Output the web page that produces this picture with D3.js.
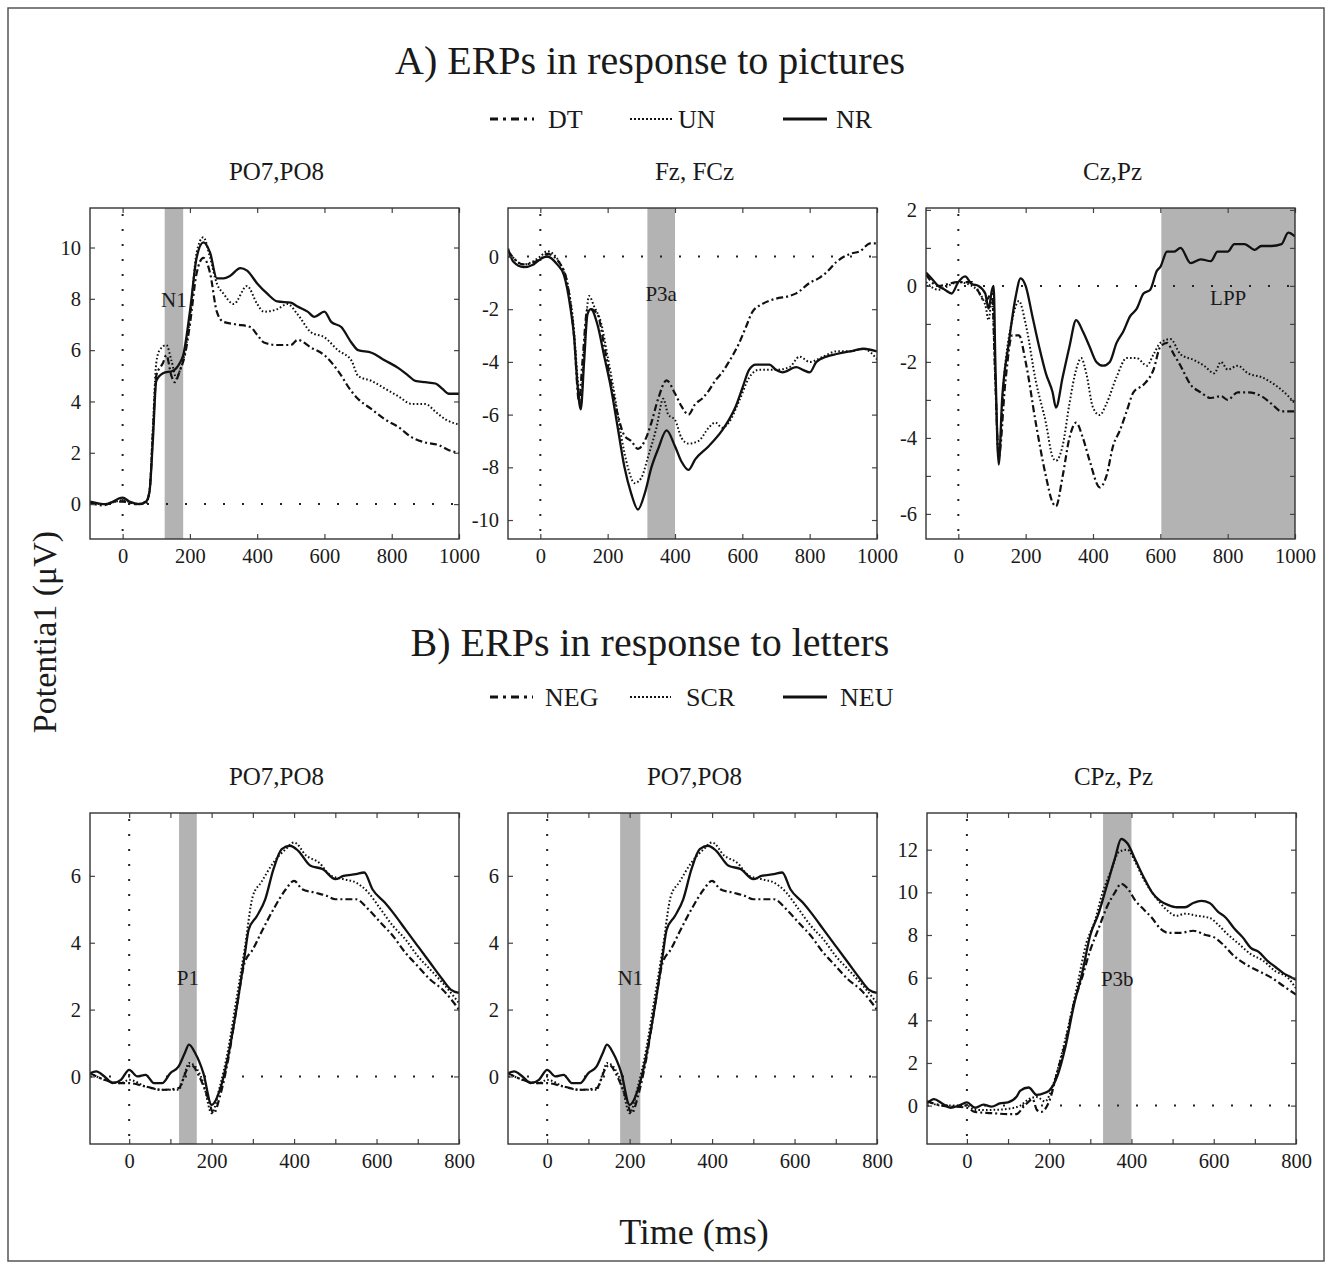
<!DOCTYPE html>
<html>
<head>
<meta charset="utf-8">
<title>ERPs</title>
<script src="https://cdnjs.cloudflare.com/ajax/libs/d3/7.8.5/d3.min.js"></script>
<style>
  body { margin: 0; background: #fff; }
  svg text { font-family: "Liberation Serif", "Times New Roman", serif; fill: #1a1a1a; }
</style>
</head>
<body>
<svg id="chart" width="1332" height="1269"></svg>
<script>
// ---- data: [time ms, potential uV] ----
var a1DT = [[-97,0.05],[-60,-0.05],[-20,0.1],[0,0.1],[40,0.0],[70,0.1],[80,0.5],[90,2.8],[100,5.0],[120,5.5],[130,5.8],[145,5.0],[155,4.75],[170,5.2],[185,5.8],[200,7.0],[220,9.0],[240,9.6],[260,9.0],[280,7.5],[300,7.1],[340,7.0],[380,6.9],[400,6.6],[420,6.3],[460,6.2],[500,6.2],[520,6.4],[560,6.1],[600,5.8],[640,5.2],[680,4.4],[700,4.1],[740,3.7],[780,3.3],[820,3.0],[860,2.6],[900,2.4],[940,2.3],[970,2.1],[1000,2.0]];
var a1UN = [[-97,0.05],[-60,0.0],[-20,0.1],[0,0.15],[40,0.0],[70,0.05],[80,0.5],[90,3.0],[100,5.5],[110,6.0],[130,6.2],[145,5.6],[160,4.9],[170,5.2],[180,5.6],[200,7.2],[220,9.8],[240,10.4],[260,9.6],[280,8.6],[300,8.2],[330,7.8],[370,8.5],[400,7.8],[420,7.5],[460,7.6],[490,7.8],[520,7.4],[560,6.7],[600,6.5],[640,6.0],[680,5.6],[700,5.0],[740,4.8],[780,4.5],[820,4.2],[860,3.9],[900,3.9],[930,3.6],[960,3.3],[1000,3.1]];
var a1NR = [[-97,0.1],[-50,0.0],[0,0.25],[20,0.1],[50,0.0],[70,0.1],[80,0.5],[90,2.5],[100,4.8],[120,5.1],[150,5.2],[170,5.5],[180,5.8],[200,7.5],[220,9.6],[240,10.2],[260,9.8],[280,8.8],[300,8.8],[320,8.9],[350,9.2],[370,9.1],[400,8.6],[430,8.2],[460,7.9],[500,7.85],[520,7.7],[550,7.5],[570,7.3],[600,7.5],[620,7.1],[650,6.9],[680,6.3],[700,6.0],[740,5.9],[780,5.6],[820,5.3],[850,5.0],[870,4.8],[900,4.75],[930,4.7],[950,4.5],[970,4.3],[1000,4.3]];

var a2DT = [[-96,0.2],[-50,-0.3],[0,-0.1],[20,0.1],[60,-0.3],[80,-1.0],[100,-3.0],[115,-5.5],[125,-4.0],[140,-2.0],[150,-2.0],[170,-2.2],[190,-3.4],[210,-4.8],[230,-6.0],[250,-6.8],[270,-7.0],[290,-7.3],[310,-7.0],[330,-6.3],[350,-5.4],[375,-4.7],[400,-5.2],[420,-5.7],[440,-6.0],[460,-5.6],[480,-5.4],[500,-5.1],[520,-4.7],[540,-4.4],[560,-4.0],[590,-3.3],[610,-2.7],[630,-2.1],[660,-1.8],[700,-1.6],[740,-1.5],[760,-1.4],[800,-1.0],[830,-0.8],[850,-0.6],[880,-0.2],[920,0.1],[950,0.2],[980,0.5],[1000,0.5]];
var a2UN = [[-96,0.2],[-50,-0.3],[0,0.0],[20,0.2],[60,-0.3],[80,-1.0],[100,-2.8],[110,-4.5],[120,-5.7],[130,-3.5],[145,-1.5],[160,-1.9],[180,-2.5],[200,-3.8],[220,-5.2],[240,-6.8],[260,-8.0],[280,-8.6],[300,-8.4],[320,-7.6],[345,-6.5],[365,-5.4],[380,-6.0],[400,-6.2],[420,-6.9],[440,-7.1],[470,-7.0],[500,-6.5],[520,-6.3],[540,-6.5],[560,-6.3],[590,-5.5],[620,-4.6],[650,-4.3],[700,-4.3],[740,-4.2],[770,-3.8],[800,-4.0],[840,-3.8],[880,-3.6],[920,-3.6],[960,-3.5],[1000,-3.9]];
var a2NR = [[-96,0.3],[-80,-0.2],[-50,-0.4],[-20,-0.3],[0,-0.1],[20,0.0],[50,-0.3],[70,-0.7],[90,-2.0],[100,-3.0],[110,-4.8],[120,-5.8],[130,-4.0],[140,-2.2],[150,-2.0],[170,-2.6],[190,-3.8],[210,-5.0],[230,-6.5],[250,-8.0],[270,-9.0],[290,-9.6],[310,-9.0],[330,-8.0],[350,-7.3],[375,-6.6],[400,-7.2],[420,-7.8],[440,-8.1],[460,-7.7],[500,-7.2],[540,-6.6],[560,-6.2],[580,-5.7],[600,-5.0],[620,-4.3],[640,-4.1],[680,-4.1],[700,-4.3],[720,-4.4],[760,-4.2],[780,-4.3],[800,-4.4],[820,-4.0],[850,-3.8],[880,-3.7],[920,-3.6],[960,-3.5],[1000,-3.6]];

var a3DT = [[-96,0.3],[-60,0.0],[0,0.1],[40,0.1],[80,-0.4],[100,-0.2],[110,-2.5],[120,-4.5],[140,-2.5],[160,-1.3],[180,-1.3],[200,-2.0],[230,-3.6],[260,-5.0],[280,-5.7],[290,-5.8],[310,-5.0],[330,-4.0],[350,-3.6],[370,-4.0],[390,-4.6],[420,-5.3],[440,-5.0],[460,-4.2],[480,-3.8],[500,-3.3],[520,-2.8],[550,-2.6],[580,-2.2],[600,-1.6],[620,-1.5],[640,-1.8],[660,-2.1],[690,-2.6],[720,-2.8],[750,-2.95],[780,-2.9],[800,-3.0],[830,-2.8],[860,-2.8],[900,-2.9],[930,-3.1],[960,-3.3],[1000,-3.3]];
var a3UN = [[-96,0.1],[-60,-0.1],[0,0.1],[40,0.0],[80,-0.5],[90,-0.9],[100,-0.3],[110,-2.5],[120,-4.5],[135,-2.5],[160,-0.9],[180,-0.4],[200,-1.0],[230,-2.5],[260,-3.6],[280,-4.5],[290,-4.6],[310,-4.2],[330,-3.1],[350,-2.2],[365,-1.9],[380,-2.3],[400,-3.2],[420,-3.4],[440,-3.1],[470,-2.4],[500,-1.9],[530,-1.9],[560,-2.1],[580,-1.8],[600,-1.5],[630,-1.4],[660,-1.8],[700,-1.95],[730,-2.1],[760,-2.3],[780,-2.0],[800,-2.2],[830,-2.1],[860,-2.3],[900,-2.4],[940,-2.6],[980,-2.9],[1000,-3.1]];
var a3NR = [[-96,0.35],[-80,0.2],[-60,0.0],[-40,-0.1],[-20,-0.2],[0,0.1],[20,0.25],[40,0.05],[60,0.0],[80,-0.2],[90,-0.6],[100,-0.1],[105,0.0],[110,-2.0],[120,-4.7],[130,-3.0],[150,-1.5],[170,-0.3],[185,0.2],[200,0.0],[220,-0.8],[240,-1.6],[260,-2.3],[280,-2.8],[290,-3.2],[310,-2.4],[330,-1.6],[350,-0.9],[370,-1.2],[390,-1.6],[410,-2.0],[430,-2.1],[450,-2.0],[470,-1.5],[490,-1.2],[510,-0.8],[530,-0.6],[550,-0.2],[570,-0.1],[590,0.4],[600,0.5],[620,0.9],[640,0.9],[660,1.0],[690,0.6],[720,0.7],[750,0.65],[770,0.9],[800,0.9],[820,1.1],[850,1.1],[880,0.95],[900,1.05],[930,1.05],[960,1.1],[980,1.4],[1000,1.3]];

// letters, occipital (same traces shown in the P1 and N1 panels)
var bNEG = [[-95,0.1],[-60,-0.1],[-20,-0.2],[0,-0.2],[40,-0.3],[80,-0.4],[120,-0.35],[140,0.2],[150,0.35],[170,0.0],[190,-0.6],[205,-1.1],[220,-0.6],[240,0.5],[260,2.0],[280,3.4],[300,3.8],[320,4.3],[350,5.0],[380,5.6],[400,5.85],[420,5.6],[450,5.5],[480,5.4],[500,5.3],[530,5.3],[550,5.3],[580,5.0],[610,4.6],[640,4.2],[670,3.7],[700,3.3],[730,2.9],[760,2.6],[800,2.0]];
var bSCR = [[-95,0.1],[-60,-0.1],[-20,-0.2],[0,-0.1],[40,-0.3],[80,-0.4],[120,-0.4],[135,0.1],[145,0.4],[160,0.3],[180,-0.2],[200,-1.1],[220,-0.3],[240,0.8],[260,2.3],[280,3.8],[300,5.4],[320,5.8],[350,6.4],[380,6.8],[400,7.0],[430,6.6],[460,6.4],[490,6.0],[520,5.9],[550,5.8],[580,5.5],[610,5.0],[640,4.5],[670,4.1],[700,3.6],[730,3.2],[760,2.8],[800,2.2]];
var bNEU = [[-95,0.1],[-80,0.15],[-60,0.0],[-40,-0.2],[-20,-0.1],[0,0.2],[20,0.0],[40,0.05],[60,-0.2],[80,-0.2],[100,0.1],[120,0.3],[135,0.7],[145,0.95],[160,0.7],[180,0.1],[200,-0.85],[220,-0.4],[240,0.6],[260,2.0],[280,3.6],[290,4.4],[310,4.8],[330,5.3],[350,6.2],[370,6.8],[390,6.9],[410,6.75],[440,6.3],[470,6.2],[500,5.9],[520,6.0],[550,6.05],[570,6.1],[590,5.6],[620,5.2],[640,4.9],[670,4.4],[700,3.9],[730,3.4],[760,2.9],[780,2.6],[800,2.5]];

var b3NEG = [[-97,0.2],[-60,0.0],[0,-0.1],[20,-0.3],[60,-0.35],[100,-0.4],[120,-0.4],[140,0.0],[160,0.3],[170,-0.2],[180,-0.3],[200,0.2],[220,1.6],[240,3.0],[260,4.8],[280,6.0],[300,7.3],[320,8.3],[340,9.3],[360,10.0],[375,10.4],[390,10.2],[410,9.6],[430,9.2],[450,8.8],[470,8.3],[490,8.1],[520,8.1],[550,8.2],[580,8.0],[600,7.9],[620,7.6],[650,7.0],[680,6.6],[710,6.3],[740,6.0],[770,5.6],[800,5.2]];
var b3SCR = [[-97,0.2],[-60,0.0],[0,0.0],[20,-0.2],[60,-0.2],[100,-0.15],[130,0.0],[150,0.3],[170,0.4],[190,0.2],[210,1.0],[230,2.4],[250,4.0],[270,5.8],[290,7.6],[310,8.6],[330,10.0],[350,11.0],[370,11.9],[390,12.0],[410,11.4],[430,10.6],[450,10.0],[470,9.5],[490,9.1],[510,8.9],[530,9.0],[560,8.9],[590,8.8],[610,8.5],[630,8.1],[660,7.6],[690,7.1],[720,6.8],[750,6.3],[780,6.0],[800,5.5]];
var b3NEU = [[-97,0.1],[-80,0.3],[-60,0.1],[-40,-0.1],[-20,0.0],[0,0.15],[20,-0.1],[40,0.05],[60,-0.05],[80,0.1],[100,0.15],[120,0.4],[130,0.7],[150,0.85],[170,0.5],[190,0.6],[200,0.7],[220,1.4],[240,2.8],[260,4.7],[280,6.2],[300,8.0],[320,9.0],[340,10.3],[360,11.6],[375,12.5],[390,12.3],[410,11.5],[430,10.7],[450,10.0],[470,9.6],[490,9.4],[510,9.3],[530,9.3],[550,9.5],[570,9.6],[590,9.5],[610,9.1],[630,8.8],[650,8.3],[670,7.9],[690,7.4],[710,7.2],[730,6.8],[750,6.5],[770,6.2],[790,6.0],[800,5.9]];

// ticks
var xTicksA = [0, 200, 400, 600, 800, 1000];
var xTicksB = [0, 100, 200, 300, 400, 500, 600, 700, 800];
var yTicksA1 = [0, 2, 4, 6, 8, 10];
var yTicksA2 = [-10, -8, -6, -4, -2, 0];
var yTicksA3 = [-6, -5, -4, -3, -2, -1, 0, 1, 2];
var yTicksB = [0, 2, 4, 6];
var yTicksB3 = [0, 2, 4, 6, 8, 10, 12];

var legendA = ["DT", "UN", "NR"];
var legendB = ["NEG", "SCR", "NEU"];

// ---- layout ----
var svg = d3.select("#chart");
var W = 369, H = 331;
var styles = {
  dashdot: { width: 2.2, dash: "7,3,2,3" },
  dotted: { width: 2.0, dash: "1.6,2.2" },
  solid: { width: 2.3, dash: null }
};

var panels = [
  { x: 90, y: 208, title: "PO7,PO8", xd: [-97, 1000], yd: [-1.36, 11.54], xt: xTicksA, yt: yTicksA1,
    band: [125, 180], lab: "N1", labV: 7.7, series: [[a1DT, "dashdot"], [a1UN, "dotted"], [a1NR, "solid"]] },
  { x: 508, y: 208, title: "Fz, FCz", xd: [-96, 1000], yd: [-10.72, 1.84], xt: xTicksA, yt: yTicksA2,
    band: [318, 400], lab: "P3a", labV: -1.7, series: [[a2DT, "dashdot"], [a2UN, "dotted"], [a2NR, "solid"]] },
  { x: 926, y: 208, title: "Cz,Pz", xd: [-96, 1000], yd: [-6.66, 2.05], xt: xTicksA, yt: yTicksA3,
    band: [603, 1000], lab: "LPP", labV: -0.5, series: [[a3DT, "dashdot"], [a3UN, "dotted"], [a3NR, "solid"]] },
  { x: 90, y: 813, title: "PO7,PO8", xd: [-95, 800], yd: [-2.02, 7.88], xt: xTicksB, yt: yTicksB,
    band: [121, 164], lab: "P1", labV: 2.75, series: [[bNEG, "dashdot"], [bSCR, "dotted"], [bNEU, "solid"]] },
  { x: 508, y: 813, title: "PO7,PO8", xd: [-95, 800], yd: [-2.02, 7.88], xt: xTicksB, yt: yTicksB,
    band: [177, 226], lab: "N1", labV: 2.75, series: [[bNEG, "dashdot"], [bSCR, "dotted"], [bNEU, "solid"]] },
  { x: 927, y: 813, title: "CPz, Pz", xd: [-97, 800], yd: [-1.8, 13.72], xt: xTicksB, yt: yTicksB3,
    band: [331, 400], lab: "P3b", labV: 5.6, series: [[b3NEG, "dashdot"], [b3SCR, "dotted"], [b3NEU, "solid"]] }
];

// outer frame
svg.append("rect").attr("x", 8).attr("y", 8).attr("width", 1316).attr("height", 1253)
  .attr("fill", "none").attr("stroke", "#555").attr("stroke-width", 1.5);

panels.forEach(function (p, i) {
  var x = d3.scaleLinear().domain(p.xd).range([0, W]);
  var y = d3.scaleLinear().domain(p.yd).range([H, 0]);
  var g = svg.append("g").attr("transform", "translate(" + p.x + "," + p.y + ")");

  g.append("clipPath").attr("id", "clip" + i)
    .append("rect").attr("width", W).attr("height", H);

  // shaded window
  g.append("rect")
    .attr("x", x(p.band[0])).attr("y", 0)
    .attr("width", x(p.band[1]) - x(p.band[0])).attr("height", H)
    .attr("fill", "#b3b3b3");

  // zero lines
  g.append("line").attr("x1", 0).attr("x2", W).attr("y1", y(0)).attr("y2", y(0))
    .attr("stroke", "#222").attr("stroke-width", 2).attr("stroke-dasharray", "2,17");
  g.append("line").attr("x1", x(0)).attr("x2", x(0)).attr("y1", 6).attr("y2", H)
    .attr("stroke", "#222").attr("stroke-width", 2).attr("stroke-dasharray", "2,13");

  g.append("text").attr("x", x((p.band[0] + p.band[1]) / 2)).attr("y", y(p.labV))
    .attr("text-anchor", "middle").attr("font-size", 21).attr("fill", "#333")
    .text(p.lab);

  var line = d3.line().x(function (d) { return x(d[0]); }).y(function (d) { return y(d[1]); })
    .curve(d3.curveMonotoneX);

  p.series.forEach(function (s) {
    var st = styles[s[1]];
    g.append("path").datum(s[0])
      .attr("clip-path", "url(#clip" + i + ")")
      .attr("d", line)
      .attr("fill", "none").attr("stroke", "#111")
      .attr("stroke-width", st.width)
      .attr("stroke-dasharray", st.dash)
      .attr("stroke-linejoin", "round");
  });

  // axes: ticks inside on all four sides
  var fmtX = function (d) { return d % 200 === 0 ? d : ""; };
  var fmtY = function (d) { return d % 2 === 0 ? d : ""; };
  var ax = [
    g.append("g").attr("transform", "translate(0," + H + ")")
      .call(d3.axisBottom(x).tickValues(p.xt).tickSize(-5).tickPadding(9).tickFormat(fmtX)),
    g.append("g")
      .call(d3.axisTop(x).tickValues(p.xt).tickSize(-5).tickFormat("")),
    g.append("g")
      .call(d3.axisLeft(y).tickValues(p.yt).tickSize(-5).tickPadding(9).tickFormat(fmtY)),
    g.append("g").attr("transform", "translate(" + W + ",0)")
      .call(d3.axisRight(y).tickValues(p.yt).tickSize(-5).tickFormat(""))
  ];
  ax.forEach(function (a) {
    a.select(".domain").remove();
    a.selectAll("line").attr("stroke", "#444").attr("stroke-width", 1.2);
    a.selectAll("text").attr("font-size", 20.5).attr("font-family", "Liberation Serif").attr("fill", "#1a1a1a");
  });

  g.append("rect").attr("width", W).attr("height", H)
    .attr("fill", "none").attr("stroke", "#333").attr("stroke-width", 1.4);

  svg.append("text").attr("x", p.x + W / 2 + 2).attr("y", p.y - 28)
    .attr("text-anchor", "middle").attr("font-size", 25).text(p.title);
});

// section titles
svg.append("text").attr("x", 650).attr("y", 74).attr("text-anchor", "middle")
  .attr("font-size", 40).text("A) ERPs in response to pictures");
svg.append("text").attr("x", 650).attr("y", 656).attr("text-anchor", "middle")
  .attr("font-size", 40).text("B) ERPs in response to letters");

// legends
function legend(yPos, names, samples, texts, font) {
  var keys = ["dashdot", "dotted", "solid"];
  names.forEach(function (n, k) {
    svg.append("line").attr("x1", samples[k][0]).attr("x2", samples[k][1])
      .attr("y1", yPos).attr("y2", yPos)
      .attr("stroke", "#111").attr("stroke-width", k === 1 ? 2.2 : 3)
      .attr("stroke-dasharray", k === 0 ? "8,5,3,5" : (k === 1 ? "2,2" : null));
    svg.append("text").attr("x", texts[k]).attr("y", yPos + 9)
      .attr("font-size", 26).attr("font-family", k === 0 && font ? font : null).text(n);
  });
}
legend(119, legendA, [[490, 534], [630, 674], [783, 827]], [548, 678, 836], "DejaVu Sans Condensed, DejaVu Sans");
legend(697, legendB, [[490, 533], [630, 671], [783, 827]], [545, 686, 840], null);

// axis titles
svg.append("text").attr("transform", "translate(56,632) rotate(-90)")
  .attr("text-anchor", "middle").attr("font-size", 34).text("Potentia1 (μV)");
svg.append("text").attr("x", 694).attr("y", 1244).attr("text-anchor", "middle")
  .attr("font-size", 36).text("Time (ms)");
</script>
</body>
</html>
